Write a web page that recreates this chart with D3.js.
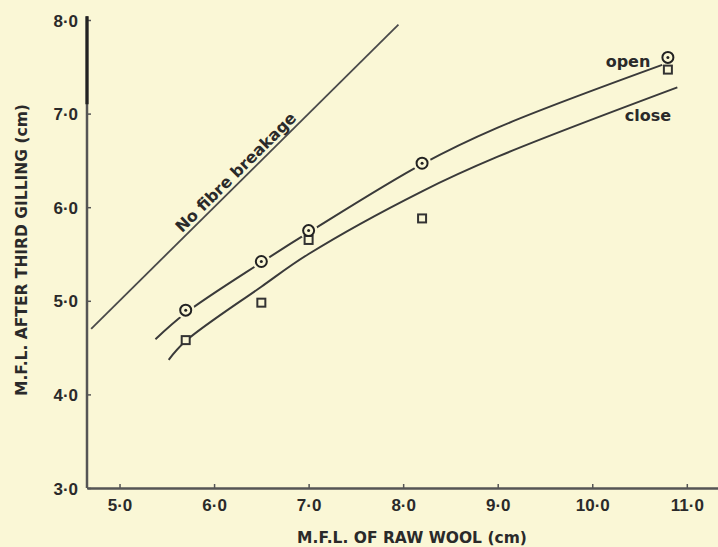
<!DOCTYPE html>
<html>
<head>
<meta charset="utf-8">
<script src="https://cdn.jsdelivr.net/npm/d3@7"></script>
<style>
  html, body { margin: 0; padding: 0; background: #faf7d6; }
  svg { display: block; }
  .tick text { font-family: "Liberation Sans", sans-serif; font-weight: bold; font-size: 17px; fill: #2a2a2a; }
  .title { font-family: "DejaVu Sans", sans-serif; font-weight: bold; font-size: 15.5px; fill: #2a2a2a; }
</style>
</head>
<body>
<div id="chart"></div>
<script>
// tick values and labels
var xTicks = [5, 6, 7, 8, 9, 10, 11];
var xTickLabels = ["5·0", "6·0", "7·0", "8·0", "9·0", "10·0", "11·0"];
var yTicks = [3, 4, 5, 6, 7, 8];
var yTickLabels = ["3·0", "4·0", "5·0", "6·0", "7·0", "8·0"];

// measured points (M.F.L. of raw wool)
var rawWool = [5.7, 6.5, 7.0, 8.2, 10.8];
var openValues = [4.90, 5.42, 5.75, 6.47, 7.60];
var closeValues = [4.58, 4.98, 5.65, 5.88, 7.47];

// hand drawn fitted curves
var openFitX = [5.38, 5.7, 6.5, 7.0, 8.2, 9.0, 10.74];
var openFitY = [4.59, 4.87, 5.41, 5.73, 6.46, 6.85, 7.52];
var closeFitX = [5.52, 5.7, 6.5, 7.0, 8.2, 9.0, 10.9];
var closeFitY = [4.37, 4.57, 5.15, 5.50, 6.17, 6.54, 7.28];

// line of no fibre breakage (y = x)
var noBreakX = [4.7, 7.95];

var width = 718, height = 547;
var bg = "#faf7d6", grey = "#555";

var x = d3.scaleLinear().domain([4.656, 11.33]).range([87, 718]);
var y = d3.scaleLinear().domain([3, 8]).range([488, 20]);

var svg = d3.select("#chart").append("svg")
    .attr("width", width)
    .attr("height", height);

svg.append("rect").attr("width", width).attr("height", height).attr("fill", bg);

// axes
var xAxis = d3.axisBottom(x)
    .tickValues(xTicks)
    .tickFormat(function(d, i) { return xTickLabels[i]; })
    .tickSizeInner(-4)
    .tickSizeOuter(0)
    .tickPadding(11);

var yAxis = d3.axisLeft(y)
    .tickValues(yTicks)
    .tickFormat(function(d, i) { return yTickLabels[i]; })
    .tickSizeInner(-4)
    .tickSizeOuter(0)
    .tickPadding(9);

var gx = svg.append("g")
    .attr("transform", "translate(0," + y(3) + ")")
    .call(xAxis);
gx.select(".domain").attr("stroke", grey).attr("stroke-width", 2.5);
gx.selectAll(".tick line").attr("stroke", grey).attr("stroke-width", 1.5);

var gy = svg.append("g")
    .attr("transform", "translate(" + x.range()[0] + ",0)")
    .call(yAxis);
gy.select(".domain").attr("d", "M0," + y(3) + "V" + y(8.04)).attr("stroke", grey).attr("stroke-width", 2.5);
gy.selectAll(".tick line").attr("stroke", grey).attr("stroke-width", 1.5);
gy.selectAll(".tick text").attr("dy", "0.36em");
// darker ink at the top of the y axis
svg.append("line")
    .attr("x1", x.range()[0]).attr("x2", x.range()[0])
    .attr("y1", y(8.04)).attr("y2", y(7.1))
    .attr("stroke", "#222").attr("stroke-width", 3.2);

// axis titles
svg.append("text").attr("class", "title")
    .attr("x", 412).attr("y", 543)
    .attr("text-anchor", "middle")
    .text("M.F.L. OF RAW WOOL (cm)");

svg.append("text").attr("class", "title")
    .attr("transform", "translate(27,250) rotate(-90)")
    .attr("text-anchor", "middle")
    .text("M.F.L. AFTER THIRD GILLING (cm)");

// no fibre breakage
svg.append("line")
    .attr("x1", x(noBreakX[0])).attr("y1", y(noBreakX[0]))
    .attr("x2", x(noBreakX[1])).attr("y2", y(noBreakX[1]))
    .attr("stroke", "#4a4a4a").attr("stroke-width", 1.8);

var ang = Math.atan2(y(7) - y(6), x(7) - x(6)) * 180 / Math.PI;
svg.append("text").attr("class", "title")
    .attr("transform", "translate(" + x(6.3) + "," + y(6.3) + ") rotate(" + ang + ")")
    .attr("text-anchor", "middle")
    .attr("dy", -4)
    .style("font-size", "16px")
    .text("No fibre breakage");

// fitted curves
var line = d3.line()
    .x(function(d) { return x(d[0]); })
    .y(function(d) { return y(d[1]); })
    .curve(d3.curveCatmullRom.alpha(0.5));

svg.append("path")
    .attr("d", line(d3.zip(openFitX, openFitY)))
    .attr("fill", "none").attr("stroke", "#3a3a3a").attr("stroke-width", 2);

svg.append("path")
    .attr("d", line(d3.zip(closeFitX, closeFitY)))
    .attr("fill", "none").attr("stroke", "#3a3a3a").attr("stroke-width", 2);

// gaps in the curves around the markers
svg.selectAll(".halo")
    .data(d3.zip(rawWool, openValues))
    .enter()
    .append("circle")
    .attr("class", "halo")
    .attr("cx", function(d) { return x(d[0]); })
    .attr("cy", function(d) { return y(d[1]); })
    .attr("r", 9)
    .attr("fill", bg);

// close markers
var sq = 8;
svg.selectAll(".closePt")
    .data(d3.zip(rawWool, closeValues))
    .enter()
    .append("rect")
    .attr("class", "closePt")
    .attr("x", function(d) { return x(d[0]) - sq / 2; })
    .attr("y", function(d) { return y(d[1]) - sq / 2; })
    .attr("width", sq).attr("height", sq)
    .attr("fill", bg).attr("stroke", "#333").attr("stroke-width", 2);

// open markers
svg.selectAll(".openPt")
    .data(d3.zip(rawWool, openValues))
    .enter()
    .append("circle")
    .attr("class", "openPt")
    .attr("cx", function(d) { return x(d[0]); })
    .attr("cy", function(d) { return y(d[1]); })
    .attr("r", 5.5)
    .attr("fill", bg).attr("stroke", "#222").attr("stroke-width", 2);

svg.selectAll(".openDot")
    .data(d3.zip(rawWool, openValues))
    .enter()
    .append("circle")
    .attr("class", "openDot")
    .attr("cx", function(d) { return x(d[0]); })
    .attr("cy", function(d) { return y(d[1]); })
    .attr("r", 1.5)
    .attr("fill", "#222");

// curve labels
svg.append("text").attr("class", "title")
    .attr("x", 628).attr("y", 67)
    .attr("text-anchor", "middle")
    .style("font-size", "16px")
    .text("open");
svg.append("text").attr("class", "title")
    .attr("x", 648).attr("y", 121)
    .attr("text-anchor", "middle")
    .style("font-size", "16px")
    .text("close");
</script>
</body>
</html>
